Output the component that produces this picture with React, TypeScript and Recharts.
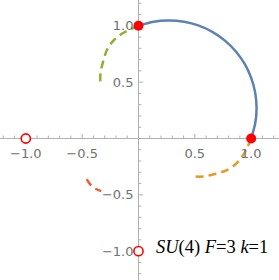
import React from "react";
import {
  ComposedChart,
  XAxis,
  YAxis,
  Line,
  Scatter,
  ReferenceLine,
  ReferenceDot,
} from "recharts";

// ---- data ----
const blueArc = [
  { x: 0, y: 1 },
  { x: 0.135, y: 1.036 },
  { x: 0.27, y: 1.048 },
  { x: 0.405, y: 1.036 },
  { x: 0.536, y: 1.001 },
  { x: 0.659, y: 0.944 },
  { x: 0.77, y: 0.866 },
  { x: 0.866, y: 0.77 },
  { x: 0.944, y: 0.659 },
  { x: 1.001, y: 0.536 },
  { x: 1.036, y: 0.405 },
  { x: 1.048, y: 0.27 },
  { x: 1.036, y: 0.135 },
  { x: 1, y: 0 },
];
const orangeArc = [
  { x: 1, y: 0 },
  { x: 0.945, y: -0.12 },
  { x: 0.874, y: -0.217 },
  { x: 0.785, y: -0.28 },
  { x: 0.679, y: -0.315 },
  { x: 0.572, y: -0.338 },
  { x: 0.47, y: -0.335 },
];
const greenArc = [
  { x: 0, y: 1 },
  { x: -0.12, y: 0.945 },
  { x: -0.217, y: 0.874 },
  { x: -0.28, y: 0.785 },
  { x: -0.315, y: 0.679 },
  { x: -0.338, y: 0.572 },
  { x: -0.335, y: 0.465 },
];
const redArc = [
  { x: -0.46, y: -0.36 },
  { x: -0.43, y: -0.405 },
  { x: -0.39, y: -0.44 },
  { x: -0.33, y: -0.468 },
];
const filledPoints = [
  { x: 0, y: 1 },
  { x: 1, y: 0 },
];
const openPoints = [
  { x: -1, y: 0 },
  { x: 0, y: -1 },
];
const majorTicks = [-1.0, -0.5, 0.5, 1.0];
const majorTickLabels = ["\u22121.0", "\u22120.5", "0.5", "1.0"];
const minorTicks = [
  -1.2, -1.1, -0.9, -0.8, -0.7, -0.6, -0.4, -0.3, -0.2, -0.1, 0.1, 0.2, 0.3,
  0.4, 0.6, 0.7, 0.8, 0.9, 1.1, 1.2,
];
const noteParts = [
  { t: "SU", italic: true },
  { t: "(4) ", italic: false },
  { t: "F", italic: true },
  { t: "=3 ", italic: false },
  { t: "k", italic: true },
  { t: "=1", italic: false },
];
const notePosition = { x: 0.155, y: -1.02 };

const AXIS_COLOR = "#b0b0b0";
const LABEL_COLOR = "#707070";
const MAJOR_LEN = 0.04;
const MINOR_LEN = 0.026;
const DASH = "8 5";

const XTickLabel = (props: any) => {
  const { viewBox, text } = props;
  if (!viewBox) return null;
  return (
    <text
      x={viewBox.x + viewBox.width / 2}
      y={viewBox.y + viewBox.height / 2 + 15}
      textAnchor="middle"
      dominantBaseline="central"
      fontFamily="DejaVu Sans"
      fontSize={13}
      fill={LABEL_COLOR}
    >
      {text}
    </text>
  );
};

const YTickLabel = (props: any) => {
  const { viewBox, text } = props;
  if (!viewBox) return null;
  return (
    <text
      x={viewBox.x + viewBox.width / 2 - 5}
      y={viewBox.y + viewBox.height / 2}
      textAnchor="end"
      dominantBaseline="central"
      fontFamily="DejaVu Sans"
      fontSize={13}
      fill={LABEL_COLOR}
    >
      {text}
    </text>
  );
};

const NoteLabel = (props: any) => {
  const { viewBox } = props;
  if (!viewBox) return null;
  return (
    <text
      x={viewBox.x + viewBox.width / 2}
      y={viewBox.y + viewBox.height / 2}
      textAnchor="start"
      fontFamily="Liberation Serif"
      fontSize={18.5}
      fill="#000"
    >
      {noteParts.map((p, i) => (
        <tspan key={i} fontStyle={p.italic ? "italic" : "normal"} style={{ whiteSpace: "pre" }}>
          {p.t}
        </tspan>
      ))}
    </text>
  );
};

const FilledDot = (props: any) => (
  <circle cx={props.cx} cy={props.cy} r={5} fill="#ff0000" stroke="none" />
);
const OpenDot = (props: any) => (
  <circle cx={props.cx} cy={props.cy} r={4.6} fill="#ffffff" stroke="#ff0000" strokeWidth={1.6} />
);

export default function App() {
  return (
    <div style={{ position: "absolute", left: 0, top: 0, background: "#fff" }}>
      <ComposedChart width={279} height={280} margin={{ top: 0, right: 0, bottom: 0, left: 0 }}>
        <XAxis type="number" dataKey="x" domain={[-1.229, 1.247]} hide allowDataOverflow />
        <YAxis type="number" dataKey="y" domain={[-1.256, 1.229]} hide allowDataOverflow />

        <ReferenceLine x={0} stroke={AXIS_COLOR} strokeWidth={1} />
        <ReferenceLine y={0} stroke={AXIS_COLOR} strokeWidth={1} />

        {majorTicks.map((v) => (
          <ReferenceLine
            key={"mx" + v}
            segment={[{ x: v, y: 0 }, { x: v, y: MAJOR_LEN }]}
            stroke={AXIS_COLOR}
          />
        ))}
        {minorTicks.map((v) => (
          <ReferenceLine
            key={"nx" + v}
            segment={[{ x: v, y: 0 }, { x: v, y: MINOR_LEN }]}
            stroke={AXIS_COLOR}
          />
        ))}
        {majorTicks.map((v) => (
          <ReferenceLine
            key={"my" + v}
            segment={[{ x: 0, y: v }, { x: MAJOR_LEN, y: v }]}
            stroke={AXIS_COLOR}
          />
        ))}
        {minorTicks.map((v) => (
          <ReferenceLine
            key={"ny" + v}
            segment={[{ x: 0, y: v }, { x: MINOR_LEN, y: v }]}
            stroke={AXIS_COLOR}
          />
        ))}

        {majorTicks.map((v, i) => (
          <ReferenceDot
            key={"lx" + v}
            x={v}
            y={0}
            r={0}
            fill="none"
            stroke="none"
            label={<XTickLabel text={majorTickLabels[i]} />}
          />
        ))}
        {majorTicks.map((v, i) => (
          <ReferenceDot
            key={"ly" + v}
            x={0}
            y={v}
            r={0}
            fill="none"
            stroke="none"
            label={<YTickLabel text={majorTickLabels[i]} />}
          />
        ))}

        <Line
          data={blueArc}
          dataKey="y"
          type="natural"
          stroke="#5e81b5"
          strokeWidth={2.5}
          dot={false}
          activeDot={false}
          isAnimationActive={false}
        />
        <Line
          data={greenArc}
          dataKey="y"
          type="natural"
          stroke="#8fb032"
          strokeWidth={2.5}
          strokeDasharray={DASH}
          dot={false}
          activeDot={false}
          isAnimationActive={false}
        />
        <Line
          data={orangeArc}
          dataKey="y"
          type="natural"
          stroke="#e19c24"
          strokeWidth={2.5}
          strokeDasharray={DASH}
          dot={false}
          activeDot={false}
          isAnimationActive={false}
        />
        <Line
          data={redArc}
          dataKey="y"
          type="natural"
          stroke="#eb6235"
          strokeWidth={2.5}
          strokeDasharray={DASH}
          dot={false}
          activeDot={false}
          isAnimationActive={false}
        />

        <Scatter data={filledPoints} dataKey="y" shape={<FilledDot />} isAnimationActive={false} />
        <Scatter data={openPoints} dataKey="y" shape={<OpenDot />} isAnimationActive={false} />

        <ReferenceDot
          x={notePosition.x}
          y={notePosition.y}
          r={0}
          fill="none"
          stroke="none"
          label={<NoteLabel />}
        />
      </ComposedChart>
    </div>
  );
}
